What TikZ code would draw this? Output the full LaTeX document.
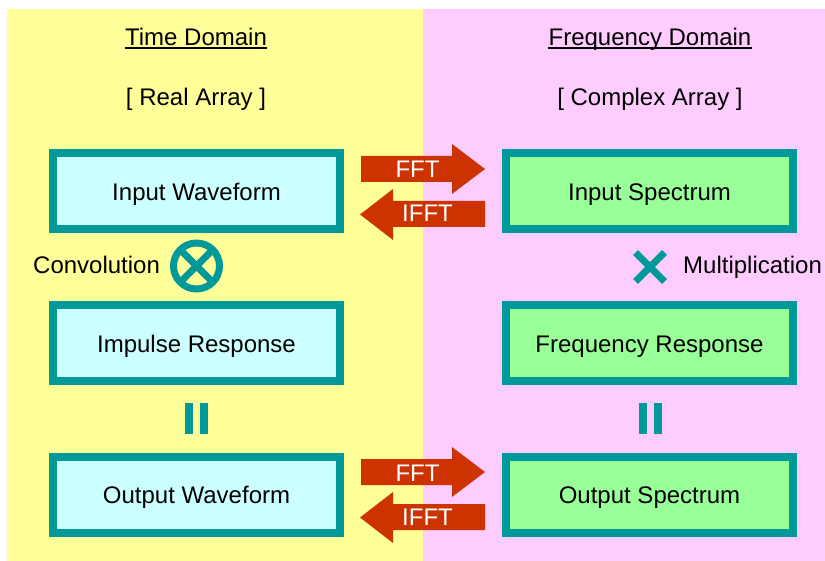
\documentclass[tikz,border=0pt]{standalone}
\usepackage{fontspec}
\setmainfont{Liberation Sans}
\definecolor{timebg}{HTML}{FFFF99}
\definecolor{freqbg}{HTML}{FFCCFF}
\definecolor{tealline}{HTML}{009999}
\definecolor{timefill}{HTML}{CCFFFF}
\definecolor{freqfill}{HTML}{99FF99}
\definecolor{fftred}{HTML}{CC3300}
\tikzset{
  every node/.style={font=\fontsize{24}{28}\selectfont, inner sep=0pt},
  stagebox/.style={draw=tealline, line width=8pt, minimum width=287pt,
    minimum height=76pt, text height=17.2pt, text depth=0pt},
  timebox/.style={stagebox, fill=timefill},
  freqbox/.style={stagebox, fill=freqfill},
  heading/.style={anchor=base},
  headrule/.style={line width=1.6pt},
  blockarrow/.style={fill=fftred},
  arrowlabel/.style={anchor=base, text=white},
  opline/.style={draw=tealline, line width=7pt},
  eqbar/.style={fill=tealline},
}
\begin{document}
\begin{tikzpicture}[x=1pt, y=-1pt]
  \useasboundingbox (0,0) rectangle (825,561);
  \fill[white] (0,0) rectangle (825,561);
  % domain backgrounds
  \fill[timebg] (7,9) rectangle (423,561);
  \fill[freqbg] (423,9) rectangle (825,561);

  % headings
  \node[heading] (td) at (196,45.5) {Time Domain};
  \draw[headrule] ([yshift=-2.5pt]td.base west) -- ([yshift=-2.5pt]td.base east);
  \node[heading] (fd) at (650,45.5) {Frequency Domain};
  \draw[headrule] ([yshift=-2.5pt]fd.base west) -- ([yshift=-2.5pt]fd.base east);
  \node[heading] (ra) at (196,105.5) {[ Real Array ]};
  \node[heading] (ca) at (650,105.5) {[ Complex Array ]};

  % stage boxes
  \node[timebox] (iw) at (196.5,191.5) {Input Waveform};
  \node[timebox] (ir) at (196.5,343.5) {Impulse Response};
  \node[timebox] (ow) at (196.5,495) {Output Waveform};
  \node[freqbox] (is) at (649.5,191.5) {Input Spectrum};
  \node[freqbox] (fr) at (649.5,343.5) {Frequency Response};
  \node[freqbox] (os) at (649.5,495) {Output Spectrum};

  % transform arrows between the domains
  \foreach \dy/\tag in {0/top, 303/bot} {
    \fill[blockarrow] (361,156+\dy) -- (452,156+\dy) -- (452,144+\dy)
      -- (485,169+\dy) -- (452,194+\dy) -- (452,182+\dy) -- (361,182+\dy) -- cycle;
    \fill[blockarrow] (485,201+\dy) -- (393,201+\dy) -- (393,189+\dy)
      -- (360,214.5+\dy) -- (393,240+\dy) -- (393,227+\dy) -- (485,227+\dy) -- cycle;
    \node[arrowlabel] (fft\tag) at (417.5,178+\dy) {FFT};
    \node[arrowlabel] (ifft\tag) at (427.5,222+\dy) {IFFT};
  }

  % convolution operator
  \coordinate (conv) at (196.5,266);
  \draw[opline] (conv) circle[radius=23];
  \begin{scope}
    \clip (conv) circle[radius=23];
    \draw[opline] ([shift={(-30,-30)}]conv) -- ([shift={(30,30)}]conv);
    \draw[opline] ([shift={(-30,30)}]conv) -- ([shift={(30,-30)}]conv);
  \end{scope}
  \node[anchor=base west] (convlabel) at (33,273.5) {Convolution};

  % multiplication operator
  \coordinate (mult) at (650,267);
  \draw[opline] ([shift={(-14.5,-14.5)}]mult) -- ([shift={(14.5,14.5)}]mult);
  \draw[opline] ([shift={(-14.5,14.5)}]mult) -- ([shift={(14.5,-14.5)}]mult);
  \node[anchor=base west] (multlabel) at (683,273.5) {Multiplication};

  % equals signs
  \fill[eqbar] (185,403) rectangle (193,434);
  \fill[eqbar] (200,403) rectangle (208,434);
  \fill[eqbar] (638.5,403) rectangle (646.5,434);
  \fill[eqbar] (653.5,403) rectangle (661.5,434);
\end{tikzpicture}
\end{document}
